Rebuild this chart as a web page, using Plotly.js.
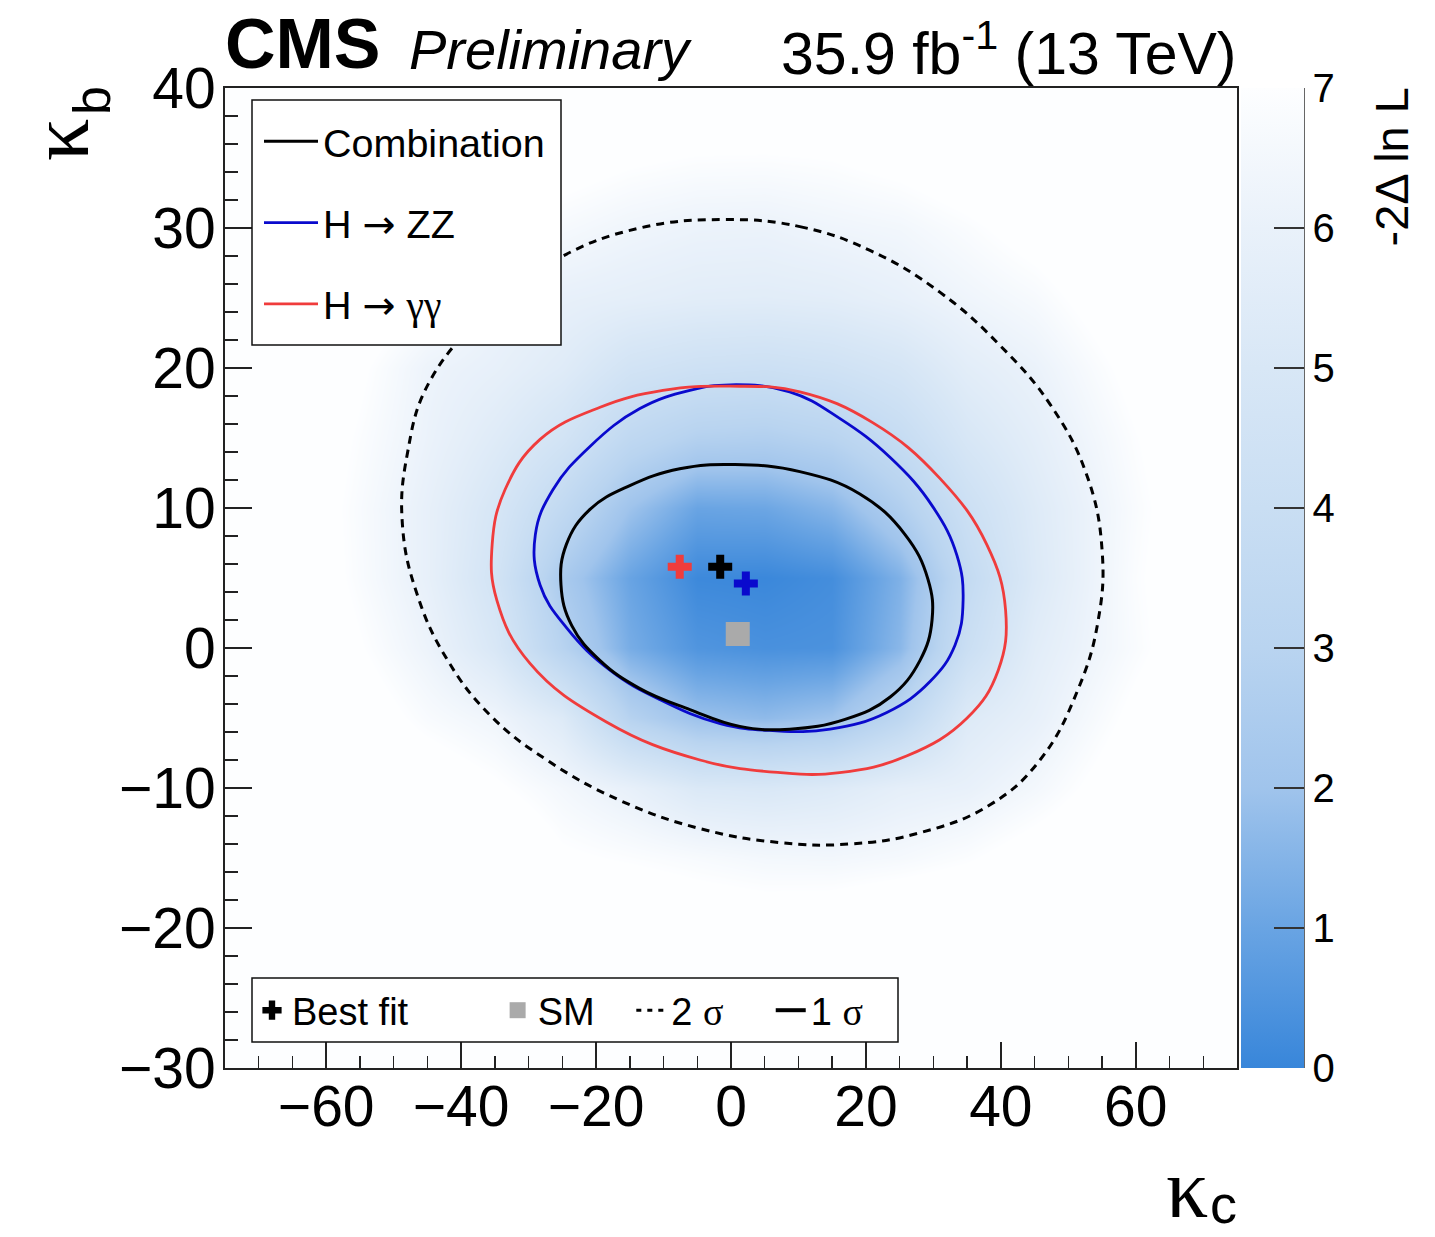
<!DOCTYPE html>
<html><head><meta charset="utf-8">
<script src="https://cdn.plot.ly/plotly-3.0.1.min.js"></script>
<style>html,body{margin:0;padding:0;background:#fff}</style>
</head><body><div id="chart" style="width:1435px;height:1237px"></div>
<script>
// ---- likelihood scan grid (-2 Delta ln L) ----
const kcGrid = [-75,-60,-45,-35,-25,-15,-5,5,15,25,35,45,60,75];
const kbGrid = [-30,-20,-15,-10,-5,0,5,10,15,20,25,30,35,40];
const nll = [
  [8,8,8,8,8,8,8,8,8,8,8,8,8,8],
  [8,8,8,8,8,7.9,7.6,7.5,7.6,7.9,8,8,8,8],
  [8,8,8,8,7.1,6.9,6.7,6.5,6.45,6.6,6.9,7.4,8,8],
  [8,8,7.6,7.1,6.5,5.9,5.16,5.05,5.3,5.76,5.95,6.5,7.6,8],
  [8,7.84,6.75,6.3,5.3,2.9,1.9,1.7,2.0,3.3,5.29,5.9,7.2,8],
  [8,7.46,6.18,5.03,2.96,1.26,0.5,0.35,0.4,1.6,4.08,5.56,6.8,8],
  [8,7.23,5.89,4.62,2.40,0.98,0.1,0.05,0.25,1.4,3.62,5.22,6.88,8],
  [8,7.17,5.89,4.89,3.52,1.97,1.0,1.06,1.52,2.67,4.18,5.33,6.79,8],
  [8,7.28,6.10,5.40,4.62,3.4,2.8,2.7,3.0,3.8,4.95,5.68,6.95,8],
  [8,7.55,6.2,5.89,5.42,4.6,4.3,4.2,4.4,4.8,5.60,6.07,7.25,8],
  [8,7.97,6.94,6.2,5.9,5.74,5.58,5.54,5.63,5.9,6.3,6.67,7.68,8],
  [8,8,7.55,7.0,6.63,6.32,6.14,6.1,6.3,6.44,6.83,7.32,8,8],
  [8,8,8,7.78,7.38,7.09,6.94,6.92,7.0,7.25,7.6,8,8,8],
  [8,8,8,8,8,8,7.87,7.84,7.9,8,8,8,8,8]
];

// ---- contours (kappa_c, kappa_b) ----
const comb2sKc = [-0.9,10.2,20.6,31.0,39.9,47.3,52.7,55.0,54.4,51.4,45.8,38.4,28.0,17.6,7.3,-4.6,-16.4,-27.3,-35.7,-42.1,-46.5,-48.7,-48.0,-44.6,-35.0,-25.3,-13.5,-0.9];
const comb2sKb = [30.6,30.1,28.4,25.4,21.6,17.4,12.4,7.0,1.9,-3.0,-8.0,-11.2,-13.2,-14.0,-13.9,-12.9,-10.9,-8.0,-4.8,-0.8,3.8,8.8,13.8,19.1,24.5,27.9,30.0,30.6];

const comb1sKc = [0.6,10.2,19.1,25.8,29.2,29.8,28.0,23.6,16.9,8.7,1.3,-6.1,-13.5,-19.4,-23.6,-25.2,-24.4,-20.9,-15.0,-7.6,0.6];
const comb1sKb = [13.1,12.6,11.0,8.1,4.9,2.0,-0.9,-3.5,-5.1,-5.8,-5.6,-4.4,-2.9,-0.9,1.6,4.5,7.4,9.9,11.6,12.8,13.1];

const zzKc = [-0.1,8.7,16.1,23.6,29.9,33.5,34.4,33.2,29.5,23.1,14.7,6.2,-1.6,-10.5,-17.9,-24.3,-28.3,-29.0,-26.4,-20.9,-13.5,-6.1,-0.1];
const zzKb = [18.8,18.3,16.4,13.6,10.1,6.6,3.4,0.2,-2.4,-4.6,-5.8,-5.9,-5.4,-3.7,-1.6,1.4,4.5,8.1,11.3,14.4,17.1,18.4,18.8];

const ggKc = [-0.1,10.2,21.0,31.0,37.9,40.7,39.6,35.0,26.1,16.1,7.3,-4.6,-18.4,-29.8,-34.7,-35.4,-33.5,-28.3,-19.4,-10.1,-0.1];
const ggKb = [18.7,18.3,16.1,12.1,7.4,2.7,-1.6,-5.0,-7.7,-8.9,-8.9,-8.0,-5.3,-1.1,3.4,7.4,11.3,14.9,17.2,18.4,18.7];

// ---- points ----
const bestComb = {kc: [-1.6], kb: [5.8]};
const bestZZ = {kc: [2.2], kb: [4.6]};
const bestGG = {kc: [-7.6], kb: [5.8]};
const smPoint = {kc: [1], kb: [1]};

const cbTicks = [0,1,2,3,4,5,6,7];

const SANS = 'Liberation Sans, Arial, Helvetica, sans-serif';
const SERIF = 'Liberation Serif, Times New Roman, serif';
const NB = '\u00a0';
const ARROW = '<span style="font-family:DejaVu Sans">\u2192</span>';
const gr = (s) => '<span style="font-family:Liberation Serif">' + s + '</span>';

const colorscale = [
  [0.0, 'rgb(56,134,218)'],
  [1/7, 'rgb(105,164,227)'],
  [2/7, 'rgb(160,196,236)'],
  [3/7, 'rgb(185,212,240)'],
  [4/7, 'rgb(201,222,243)'],
  [5/7, 'rgb(216,231,246)'],
  [6/7, 'rgb(233,241,250)'],
  [1.0, 'rgb(253,254,255)']
];

const traces = [
  {
    type: 'heatmap', x: kcGrid, y: kbGrid, z: nll, zsmooth: 'best',
    zmin: 0, zmax: 7, colorscale: colorscale, hoverinfo: 'skip', showlegend: false,
    colorbar: {
      x: 1.004, xanchor: 'left', xpad: 0, y: 0.5, yanchor: 'middle', ypad: 0,
      len: 1, lenmode: 'fraction', thickness: 63, outlinewidth: 0,
      ticks: 'inside', ticklen: 30, tickwidth: 1.5, tickcolor: '#333',
      tickvals: cbTicks, ticktext: cbTicks.map(String),
      tickfont: {family: SANS, size: 40, color: '#000'}
    }
  },
  {
    type: 'scatter', mode: 'lines', x: comb2sKc, y: comb2sKb, showlegend: false, hoverinfo: 'skip',
    line: {color: '#000', width: 3, dash: '8px,6px', shape: 'spline', smoothing: 1.2}
  },
  {
    type: 'scatter', mode: 'lines', x: zzKc, y: zzKb, name: 'H ' + ARROW + ' ZZ',
    legend: 'legend', legendgroup: 'b', legendrank: 2, hoverinfo: 'skip',
    line: {color: '#0a0acd', width: 2.8, shape: 'spline', smoothing: 1.2}
  },
  {
    type: 'scatter', mode: 'lines', x: ggKc, y: ggKb,
    name: 'H ' + ARROW + ' ' + gr('\u03b3\u03b3'),
    legend: 'legend', legendgroup: 'c', legendrank: 3, hoverinfo: 'skip',
    line: {color: '#f03c3c', width: 2.8, shape: 'spline', smoothing: 1.2}
  },
  {
    type: 'scatter', mode: 'lines', x: comb1sKc, y: comb1sKb, name: 'Combination',
    legend: 'legend', legendgroup: 'a', legendrank: 1, hoverinfo: 'skip',
    line: {color: '#000', width: 3, shape: 'spline', smoothing: 1.2}
  },
  {
    type: 'scatter', mode: 'markers', x: smPoint.kc, y: smPoint.kb, name: 'SM' + NB + NB + NB,
    legend: 'legend2', legendrank: 2, hoverinfo: 'skip',
    marker: {symbol: 'square', size: 24, color: '#aaaaaa', line: {width: 0}}
  },
  {
    type: 'scatter', mode: 'markers', x: bestGG.kc, y: bestGG.kb, showlegend: false, hoverinfo: 'skip',
    marker: {symbol: 'cross', size: 20, color: '#f03c3c', line: {width: 0}}
  },
  {
    type: 'scatter', mode: 'markers', x: bestZZ.kc, y: bestZZ.kb, showlegend: false, hoverinfo: 'skip',
    marker: {symbol: 'cross', size: 20, color: '#0a0acd', line: {width: 0}}
  },
  {
    type: 'scatter', mode: 'markers', x: bestComb.kc, y: bestComb.kb,
    name: 'Best fit' + NB.repeat(8),
    legend: 'legend2', legendrank: 1, hoverinfo: 'skip',
    marker: {symbol: 'cross', size: 20, color: '#000', line: {width: 0}}
  },
  {
    type: 'scatter', mode: 'lines', x: [null], y: [null],
    name: '2 ' + gr('\u03c3') + NB.repeat(4),
    legend: 'legend2', legendrank: 3, hoverinfo: 'skip',
    line: {color: '#000', width: 3, dash: '5px,6px'}
  },
  {
    type: 'scatter', mode: 'lines', x: [null], y: [null],
    name: '1 ' + gr('\u03c3'),
    legend: 'legend2', legendrank: 4, hoverinfo: 'skip',
    line: {color: '#000', width: 4}
  }
];

const P = (px) => (px - 225) / 1012;
const Q = (py) => (1068 - py) / 980;

const layout = {
  width: 1435, height: 1237,
  margin: {l: 225, r: 198, t: 88, b: 169, pad: 0},
  paper_bgcolor: '#fff', plot_bgcolor: '#fff',
  font: {family: SANS, color: '#000'},
  showlegend: true,
  xaxis: {
    range: [-75, 75], tickmode: 'linear', tick0: 0, dtick: 20,
    ticks: 'inside', ticklen: 26, tickwidth: 1.5, tickcolor: '#222',
    minor: {dtick: 5, tick0: 0, ticks: 'inside', ticklen: 12.5, tickwidth: 1.5, tickcolor: '#222', showgrid: false},
    showline: true, linecolor: '#222', linewidth: 2, mirror: true,
    showgrid: false, zeroline: false,
    tickfont: {family: SANS, size: 57, color: '#000'},
    ticklabelstandoff: -12
  },
  yaxis: {
    range: [-30, 40], tickmode: 'linear', tick0: 0, dtick: 10,
    ticks: 'inside', ticklen: 27, tickwidth: 1.5, tickcolor: '#222',
    minor: {dtick: 2, tick0: 0, ticks: 'inside', ticklen: 13, tickwidth: 1.5, tickcolor: '#222', showgrid: false},
    showline: true, linecolor: '#222', linewidth: 2, mirror: true,
    showgrid: false, zeroline: false,
    tickfont: {family: SANS, size: 57, color: '#000'},
    ticklabelstandoff: -4
  },
  legend: {
    x: P(259), y: Q(109), xanchor: 'left', yanchor: 'top',
    bgcolor: 'rgba(0,0,0,0)', borderwidth: 0,
    font: {family: SANS, size: 39.5, color: '#000'},
    itemwidth: 54, tracegroupgap: 27, traceorder: 'grouped'
  },
  legend2: {
    orientation: 'h', x: P(252), y: Q(1042), xanchor: 'left', yanchor: 'bottom',
    bgcolor: 'rgba(0,0,0,0)', borderwidth: 0,
    font: {family: SANS, size: 38, color: '#000'},
    itemwidth: 30, traceorder: 'normal'
  },
  shapes: [
    {type: 'line', xref: 'paper', yref: 'paper', x0: P(1304), x1: P(1304), y0: 0, y1: 1,
     line: {color: '#333', width: 1.5}},
    {type: 'rect', xref: 'paper', yref: 'paper', layer: 'above',
     x0: P(252), x1: P(561), y0: Q(345), y1: Q(100),
     fillcolor: '#fff', line: {color: '#111', width: 1.5}},
    {type: 'rect', xref: 'paper', yref: 'paper', layer: 'above',
     x0: P(252), x1: P(898), y0: Q(1042), y1: Q(978),
     fillcolor: '#fff', line: {color: '#111', width: 1.5}}
  ],
  annotations: [
    {xref: 'paper', yref: 'paper', x: P(223), y: Q(44), xanchor: 'left', yanchor: 'middle', showarrow: false,
     text: '<b>CMS</b>', font: {family: SANS, size: 70, color: '#000'}},
    {xref: 'paper', yref: 'paper', x: P(407), y: Q(50), xanchor: 'left', yanchor: 'middle', showarrow: false,
     text: '<i>Preliminary</i>', font: {family: SANS, size: 56, color: '#000'}},
    {xref: 'paper', yref: 'paper', x: P(1238), y: Q(50), xanchor: 'right', yanchor: 'middle', showarrow: false,
     text: '35.9 fb<sup>-1</sup> (13 TeV)', font: {family: SANS, size: 59, color: '#000'}},
    {xref: 'paper', yref: 'paper', x: P(1391), y: Q(86), xanchor: 'center', yanchor: 'top', showarrow: false,
     textangle: -90, text: '-2\u0394 ln L', font: {family: SANS, size: 47, color: '#000'}},
    {xref: 'paper', yref: 'paper', x: P(1187), y: Q(1188), xanchor: 'center', yanchor: 'middle', showarrow: false,
     text: '\u03ba', font: {family: SERIF, size: 84, color: '#000'}},
    {xref: 'paper', yref: 'paper', x: P(1223), y: Q(1236), xanchor: 'center', yanchor: 'bottom', showarrow: false,
     text: 'c', font: {family: SANS, size: 54, color: '#000'}},
    {xref: 'paper', yref: 'paper', x: P(60), y: Q(140), xanchor: 'center', yanchor: 'middle', showarrow: false,
     textangle: -90, text: '\u03ba', font: {family: SERIF, size: 84, color: '#000'}},
    {xref: 'paper', yref: 'paper', x: P(92), y: Q(101), xanchor: 'center', yanchor: 'middle', showarrow: false,
     textangle: -90, text: 'b', font: {family: SANS, size: 52, color: '#000'}}
  ]
};

Plotly.newPlot('chart', traces, layout, {displayModeBar: false, staticPlot: true});
</script></body></html>
